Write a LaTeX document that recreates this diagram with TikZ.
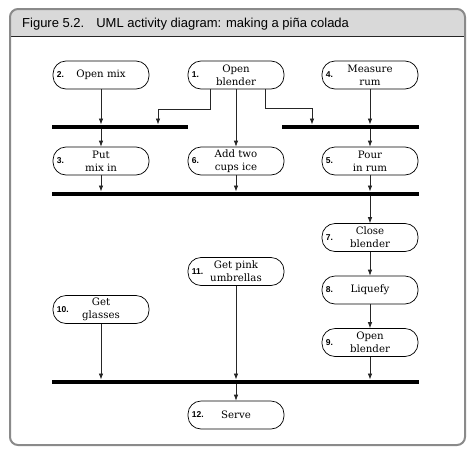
\documentclass[tikz,border=0pt]{standalone}
\usepackage{fontspec}
\setmainfont{DejaVu Serif}
\newfontfamily\titlefont{Liberation Sans}
\usetikzlibrary{arrows.meta}
\definecolor{framegray}{HTML}{8A8A8A}
\definecolor{hdrgray}{HTML}{D9D9D9}
\tikzset{
  act/.style={draw, line width=0.7pt, rounded corners=13pt, minimum width=96pt, minimum height=28pt,
    align=center, inner sep=1pt, font=\fontsize{10.2}{12.8}\selectfont},
  num/.style={anchor=west, inner sep=1pt, font=\titlefont\bfseries\fontsize{8.5}{10}\selectfont},
  syncbar/.style={fill=black, draw=none, minimum height=4.5pt, inner sep=0pt},
  arr/.style={draw=black!85, line width=0.7pt, -{Latex[length=6pt,width=4.5pt]}},
}
\begin{document}
\begin{tikzpicture}[x=1pt,y=-1pt]
\useasboundingbox (0,0) rectangle (476,458);
% frame and header
\begin{scope}
  \path[clip, rounded corners=8pt] (10,9) rectangle (465,445);
  \fill[hdrgray] (10,9) rectangle (465,36);
\end{scope}
\draw[black!85, line width=0.8pt] (10,36) -- (465,36);
\draw[framegray, line width=2pt, rounded corners=8pt] (10,9) rectangle (465,445);
\node[anchor=base west, inner sep=0pt, font=\titlefont\fontsize{13}{15}\selectfont] (title) at (22,27.5)
  {Figure 5.2.\hspace{12pt}UML activity diagram: making a piña colada};

% activities
\node[act] (n2) at (101,75) {Open mix};
\node[act] (n1) at (236,75) {Open\\blender};
\node[act] (n4) at (370,75) {Measure\\rum};
\node[act] (n3) at (101,161) {Put\\mix in};
\node[act] (n6) at (236,161) {Add two\\cups ice};
\node[act] (n5) at (370,161) {Pour\\in rum};
\node[act] (n7) at (370,237.5) {Close\\blender};
\node[act] (n8) at (370,290) {Liquefy};
\node[act] (n9) at (370,342.5) {Open\\blender};
\node[act] (n11) at (236,271.5) {Get pink\\umbrellas};
\node[act] (n10) at (101,309.5) {Get\\glasses};
\node[act] (n12) at (236,415) {Serve};

\foreach \n/\t in {n1/1.,n2/2.,n3/3.,n4/4.,n5/5.,n6/6.,n7/7.,n8/8.,n9/9.,n10/10.,n11/11.,n12/12.}
  \node[num] (\n num) at ([xshift=3pt]\n.west) {\t};

% synchronisation bars
\node[syncbar, minimum width=136pt] (b1) at (120,127) {};
\node[syncbar, minimum width=137pt] (b1r) at (350.5,127) {};
\node[syncbar, minimum width=367pt] (b2) at (235.5,194) {};
\node[syncbar, minimum width=367pt] (b3) at (235.5,382) {};

% connectors
\draw[arr] (n2.south) -- (n2.south |- b1.north);
\draw[arr] (n1.south) -- (n6.north);
\draw[arr] (n4.south) -- (n4.south |- b1r.north);
\draw[arr] ([xshift=-26pt]n1.south) -- ++(0,20) -| ([xshift=38pt]b1.north);
\draw[arr] ([xshift=29pt]n1.south) -- ++(0,19) -| ([xshift=-38.5pt]b1r.north);
\draw[arr] (n3.north |- b1.south) -- (n3.north);
\draw[arr] (n5.north |- b1r.south) -- (n5.north);
\draw[arr] (n3.south) -- (n3.south |- b2.north);
\draw[arr] (n6.south) -- (n6.south |- b2.north);
\draw[arr] (n5.south) -- (n5.south |- b2.north);
\draw[arr] (n7.north |- b2.south) -- (n7.north);
\draw[arr] (n7.south) -- (n8.north);
\draw[arr] (n8.south) -- (n9.north);
\draw[arr] (n9.south) -- (n9.south |- b3.north);
\draw[arr] (n10.south) -- (n10.south |- b3.north);
\draw[arr] (n11.south) -- (n11.south |- b3.north);
\draw[arr] (n12.north |- b3.south) -- (n12.north);
\end{tikzpicture}
\end{document}
